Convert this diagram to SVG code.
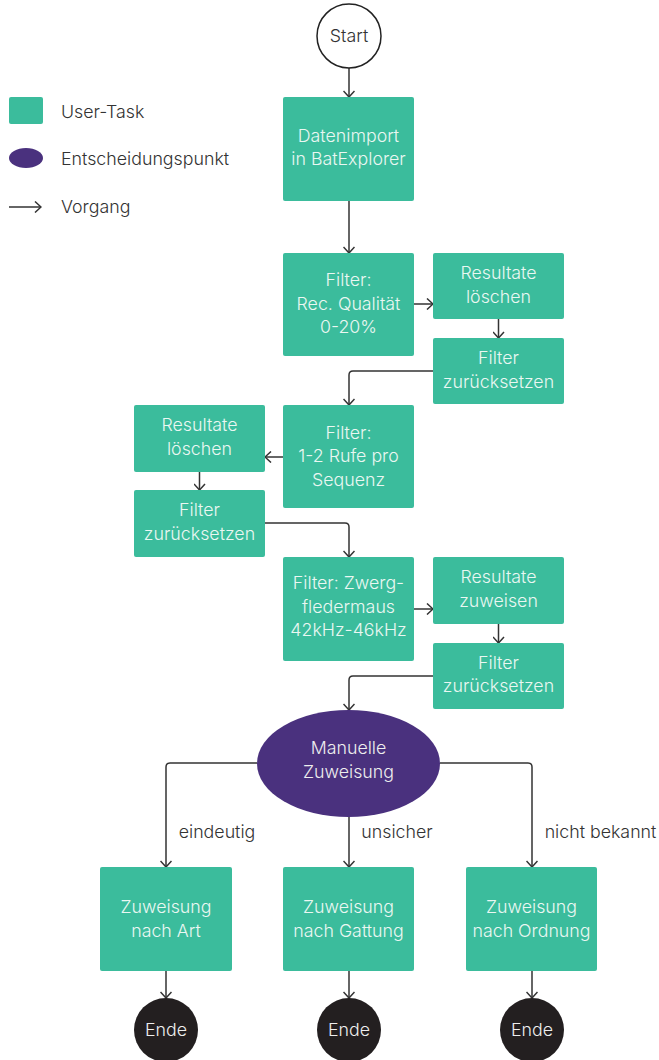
<svg xmlns="http://www.w3.org/2000/svg" width="659" height="1060" viewBox="0 0 659 1060">
  <style>
    .task { fill: #3bbc9c; }
    .decision { fill: #4a317e; }
    .end { fill: #231f20; }
    .start { fill: #ffffff; stroke: #222222; stroke-width: 1.5; }
    .lbl { font-family: Inter, "Noto Sans", "Liberation Sans", sans-serif; font-size: 17.8px; font-weight: 300; text-anchor: middle; }
    .on-node { fill: #eaf7f2; }
    .on-dark { fill: #eeeeee; }
    .dark { fill: #333333; }
    .legend { font-family: Inter, "Noto Sans", "Liberation Sans", sans-serif; font-size: 17.8px; font-weight: 300; fill: #333333; }
    .edge { fill: none; stroke: #333333; stroke-width: 1.5; marker-end: url(#arrow); }
  </style>
  <defs>
    <marker id="arrow" viewBox="0 0 12 12" refX="11" refY="6" markerWidth="12" markerHeight="12" markerUnits="userSpaceOnUse" orient="auto">
      <path d="M5,0.5 L11,6 L5,11.5" fill="none" stroke="#333333" stroke-width="1.5"/>
    </marker>
  </defs>

  <!-- legend -->
  <g id="legend">
    <rect class="task" x="9" y="97" width="34" height="27" rx="2"/>
    <text class="legend" x="61" y="118">User-Task</text>
    <ellipse class="decision" cx="26" cy="158" rx="17" ry="10"/>
    <text class="legend" x="61" y="165">Entscheidungspunkt</text>
    <path class="edge" d="M9,207 H41"/>
    <text class="legend" x="61" y="213">Vorgang</text>
  </g>

  <!-- connectors -->
  <g id="connectors">
    <path class="edge" d="M349,68 V97"/>
    <path class="edge" d="M349,201 V253"/>
    <path class="edge" d="M414,304 H433"/>
    <path class="edge" d="M498.5,319 V338"/>
    <path class="edge" d="M433,371 H353 Q349,371 349,375 V405"/>
    <path class="edge" d="M283,457 H265"/>
    <path class="edge" d="M199.5,472 V490"/>
    <path class="edge" d="M265,523 H345 Q349,523 349,527 V557"/>
    <path class="edge" d="M414,609 H433"/>
    <path class="edge" d="M498.5,624 V643"/>
    <path class="edge" d="M433,676 H353 Q349,676 349,680 V710"/>
    <path class="edge" d="M257,763 H170 Q166,763 166,767 V867"/>
    <path class="edge" d="M349,817 V867"/>
    <path class="edge" d="M440,763 H528 Q532,763 532,767 V867"/>
    <path class="edge" d="M166,971 V998"/>
    <path class="edge" d="M349,971 V998"/>
    <path class="edge" d="M532,971 V998"/>
    <text class="lbl dark" x="217" y="838">eindeutig</text>
    <text class="lbl dark" x="397" y="838">unsicher</text>
    <text class="lbl dark" x="600.5" y="838">nicht bekannt</text>
  </g>

  <!-- nodes -->
  <g id="start">
    <circle class="start" cx="349" cy="36" r="32"/>
    <text class="lbl dark" x="349" y="42">Start</text>
  </g>
  <g id="import">
    <rect class="task" x="283" y="97" width="131" height="104" rx="2"/>
    <text class="lbl on-node" x="348.5" y="142">Datenimport</text>
    <text class="lbl on-node" x="348.5" y="165">in BatExplorer</text>
  </g>
  <g id="filter-quality">
    <rect class="task" x="283" y="253" width="131" height="103" rx="2"/>
    <text class="lbl on-node" x="348.5" y="286">Filter:</text>
    <text class="lbl on-node" x="348.5" y="309.5">Rec. Qualität</text>
    <text class="lbl on-node" x="348.5" y="333">0-20%</text>
  </g>
  <g id="delete-1">
    <rect class="task" x="433" y="253" width="131" height="66" rx="2"/>
    <text class="lbl on-node" x="498.5" y="279">Resultate</text>
    <text class="lbl on-node" x="498.5" y="302.5">löschen</text>
  </g>
  <g id="reset-1">
    <rect class="task" x="433" y="338" width="131" height="66" rx="2"/>
    <text class="lbl on-node" x="498.5" y="364">Filter</text>
    <text class="lbl on-node" x="498.5" y="387.5">zurücksetzen</text>
  </g>
  <g id="filter-calls">
    <rect class="task" x="283" y="405" width="131" height="103" rx="2"/>
    <text class="lbl on-node" x="348.5" y="438.5">Filter:</text>
    <text class="lbl on-node" x="348.5" y="462">1-2 Rufe pro</text>
    <text class="lbl on-node" x="348.5" y="485.5">Sequenz</text>
  </g>
  <g id="delete-2">
    <rect class="task" x="134" y="405" width="131" height="67" rx="2"/>
    <text class="lbl on-node" x="199.5" y="431">Resultate</text>
    <text class="lbl on-node" x="199.5" y="454.5">löschen</text>
  </g>
  <g id="reset-2">
    <rect class="task" x="134" y="490" width="131" height="67" rx="2"/>
    <text class="lbl on-node" x="199.5" y="516">Filter</text>
    <text class="lbl on-node" x="199.5" y="539.5">zurücksetzen</text>
  </g>
  <g id="filter-pipistrelle">
    <rect class="task" x="283" y="557" width="131" height="104" rx="2"/>
    <text class="lbl on-node" x="348.5" y="589">Filter: Zwerg-</text>
    <text class="lbl on-node" x="348.5" y="612.5">fledermaus</text>
    <text class="lbl on-node" x="348.5" y="636">42kHz-46kHz</text>
  </g>
  <g id="assign">
    <rect class="task" x="433" y="557" width="131" height="67" rx="2"/>
    <text class="lbl on-node" x="498.5" y="583">Resultate</text>
    <text class="lbl on-node" x="498.5" y="606.5">zuweisen</text>
  </g>
  <g id="reset-3">
    <rect class="task" x="433" y="643" width="131" height="66" rx="2"/>
    <text class="lbl on-node" x="498.5" y="668.5">Filter</text>
    <text class="lbl on-node" x="498.5" y="692">zurücksetzen</text>
  </g>
  <g id="manual">
    <ellipse class="decision" cx="348.5" cy="763.5" rx="91.5" ry="53.5"/>
    <text class="lbl on-dark" x="348.5" y="754">Manuelle</text>
    <text class="lbl on-dark" x="348.5" y="778">Zuweisung</text>
  </g>
  <g id="species">
    <rect class="task" x="100" y="867" width="132" height="104" rx="2"/>
    <text class="lbl on-node" x="166" y="913">Zuweisung</text>
    <text class="lbl on-node" x="166" y="936.5">nach Art</text>
  </g>
  <g id="genus">
    <rect class="task" x="283" y="867" width="131" height="104" rx="2"/>
    <text class="lbl on-node" x="348.5" y="913">Zuweisung</text>
    <text class="lbl on-node" x="348.5" y="936.5">nach Gattung</text>
  </g>
  <g id="order">
    <rect class="task" x="466" y="867" width="131" height="104" rx="2"/>
    <text class="lbl on-node" x="531.5" y="913">Zuweisung</text>
    <text class="lbl on-node" x="531.5" y="936.5">nach Ordnung</text>
  </g>
  <g id="end-1">
    <circle class="end" cx="166" cy="1030" r="32"/>
    <text class="lbl on-dark" x="166" y="1036">Ende</text>
  </g>
  <g id="end-2">
    <circle class="end" cx="349" cy="1030" r="32"/>
    <text class="lbl on-dark" x="349" y="1036">Ende</text>
  </g>
  <g id="end-3">
    <circle class="end" cx="532" cy="1030" r="32"/>
    <text class="lbl on-dark" x="532" y="1036">Ende</text>
  </g>
</svg>
